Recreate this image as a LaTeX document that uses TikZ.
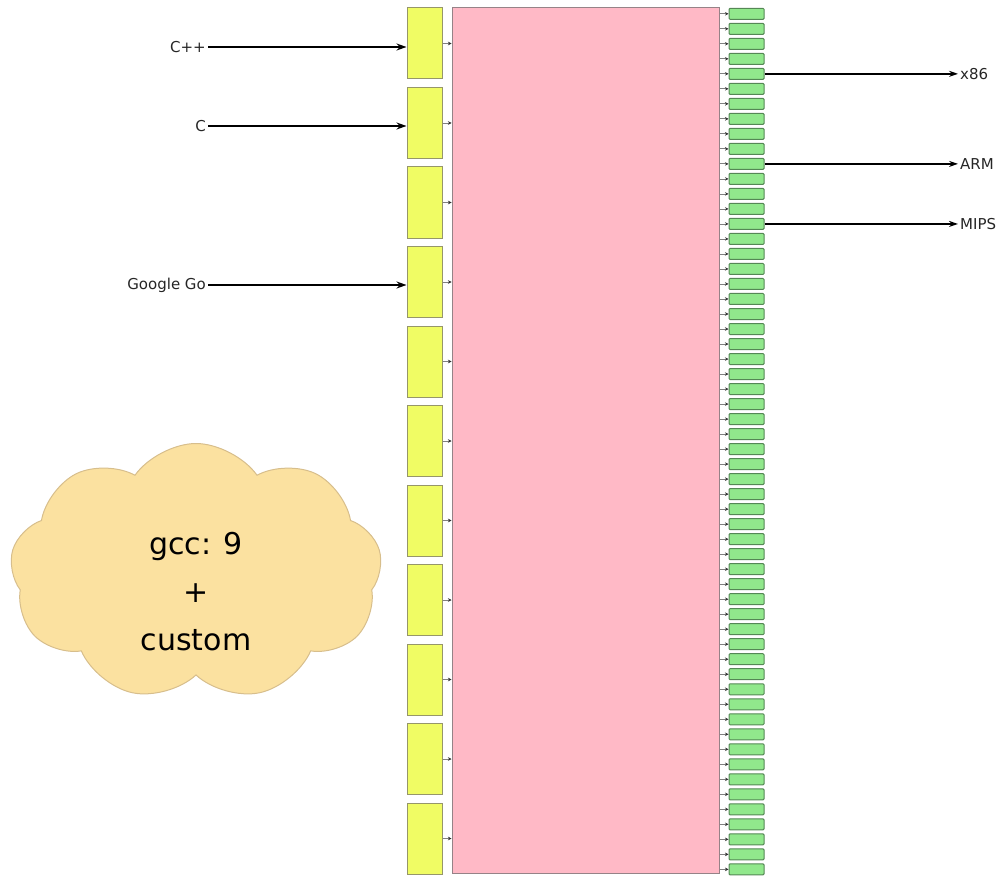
\documentclass[tikz,border=0pt]{standalone}
\usepackage{fontspec}
\setmainfont{DejaVu Sans}
\usetikzlibrary{arrows.meta,shapes.symbols}
\definecolor{langfill}{RGB}{240,252,100}
\definecolor{langdraw}{RGB}{150,150,105}
\definecolor{corefill}{RGB}{255,185,198}
\definecolor{coredraw}{RGB}{150,130,135}
\definecolor{tgtfill}{RGB}{145,232,140}
\definecolor{tgtdraw}{RGB}{85,135,85}
\definecolor{cloudfill}{RGB}{251,225,160}
\definecolor{clouddraw}{RGB}{215,190,140}
\tikzset{
  langbox/.style={draw=langdraw, fill=langfill, line width=1pt, minimum width=35pt, minimum height=71pt, inner sep=0pt},
  corebox/.style={draw=coredraw, fill=corefill, line width=1pt, minimum width=267pt, minimum height=865pt, inner sep=0pt},
  tgtbox/.style={draw=tgtdraw, fill=tgtfill, line width=1pt, rounded corners=1pt, minimum width=35pt, minimum height=11pt, inner sep=0pt},
  stub/.style={draw=gray, line width=0.8pt, -{Stealth[length=3.5pt,width=3.5pt,color=black!80]}},
  bigarrow/.style={draw=black, line width=2pt, -{Stealth[length=10pt,width=7pt]}},
  outarrow/.style={draw=black, line width=1.5pt, -{Stealth[length=9pt,width=6pt]}},
  lbl/.style={font=\fontsize{15}{18}\selectfont, inner sep=2pt, text=black!85},
}
\begin{document}
\begin{tikzpicture}[x=1pt,y=-1pt]
  \useasboundingbox (0,0) rectangle (1008,877);

  % central block
  \node[corebox] (core) at (585.5,440.5) {};

  % front-end boxes on the left
  \foreach \i in {0,...,10} {
    \node[langbox] (y\i) at (424.5,{43.5+79.5*\i}) {};
    \draw[stub] (y\i.east) -- (y\i.east -| core.west);
  }

  % back-end boxes on the right
  \foreach \j in {0,...,57} {
    \node[tgtbox] (g\j) at (746.5,{13.8+15.01*\j}) {};
    \draw[stub] (g\j.west -| core.east) -- (g\j.west);
  }

  % source languages
  \node[lbl, anchor=east] (cpp) at (208,47) {C++};
  \node[lbl, anchor=east] (c) at (208,126) {C};
  \node[lbl, anchor=east] (go) at (208,285) {Google Go};
  \draw[bigarrow] (cpp.east) -- (cpp.east -| y0.west);
  \draw[bigarrow] (c.east) -- (c.east -| y1.west);
  \draw[bigarrow] (go.east) -- (go.east -| y3.west);

  % target architectures
  \node[lbl, anchor=west] (x86) at (958,74) {x86};
  \node[lbl, anchor=west] (arm) at (958,164) {ARM};
  \node[lbl, anchor=west] (mips) at (958,224) {MIPS};
  \draw[outarrow] (g4.east) -- (g4.east -| x86.west);
  \draw[outarrow] (g10.east) -- (g10.east -| arm.west);
  \draw[outarrow, line width=2pt] (g14.east) -- (g14.east -| mips.west);

  % note cloud
  \node[cloud, cloud puffs=9, cloud puff arc=110, aspect=1.5,
        draw=clouddraw, fill=cloudfill, line width=1pt,
        minimum width=372pt, minimum height=257pt, inner sep=0pt] (note) at (196,572) {};
  \node[align=center, font=\fontsize{30}{48}\selectfont, inner sep=0pt] (notetext)
        at ([yshift=-20pt]note.center) {gcc: 9\\+\\custom};
\end{tikzpicture}
\end{document}
